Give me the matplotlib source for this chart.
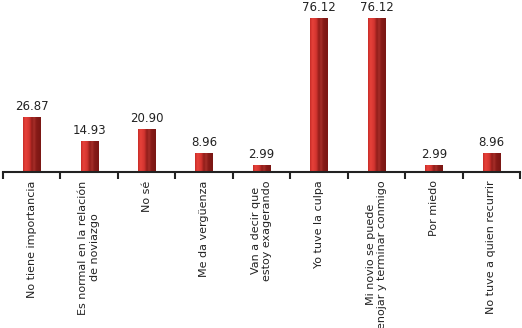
import numpy as np
import matplotlib
matplotlib.use("Agg")
import matplotlib.pyplot as plt
from matplotlib.colors import LinearSegmentedColormap

categories = [
    "No tiene importancia",
    "Es normal en la relación\nde noviazgo",
    "No sé",
    "Me da vergüenza",
    "Van a decir que\nestoy exagerando",
    "Yo tuve la culpa",
    "Mi novio se puede\nenojar y terminar conmigo",
    "Por miedo",
    "No tuve a quien recurrir",
]
values = [26.87, 14.93, 20.90, 8.96, 2.99, 76.12, 76.12, 2.99, 8.96]
value_labels = ["26.87", "14.93", "20.90", "8.96", "2.99", "76.12", "76.12", "2.99", "8.96"]

plt.rcParams["font.family"] = ["DejaVu Sans"]

# horizontal gradient used to shade each bar like a cylinder
bar_cmap = LinearSegmentedColormap.from_list("cyl", [
    (0.0, "#c42a26"),
    (0.12, "#e8423a"),
    (0.35, "#d33530"),
    (0.5, "#8e1b18"),
    (0.62, "#a8302a"),
    (0.75, "#861a17"),
    (1.0, "#7a1714"),
])

fig = plt.figure(figsize=(5.22, 3.28), dpi=100)
ax = fig.add_axes([3 / 522, 156 / 328, 517 / 522, 160.8 / 328])

x = np.arange(len(categories))
bars = ax.bar(x, values, width=0.3, color="none", edgecolor="none", zorder=2)

grad = np.linspace(0, 1, 64).reshape(1, -1)
for b in bars:
    x0, y0 = b.get_x(), b.get_y()
    ax.imshow(grad, cmap=bar_cmap, aspect="auto", interpolation="bicubic",
              extent=(x0, x0 + b.get_width(), y0, y0 + b.get_height()), zorder=2)

for xi, v, lab in zip(x, values, value_labels):
    ax.annotate(lab, (xi, v), xytext=(0, 3.5), textcoords="offset points",
                ha="center", va="bottom", fontsize=8.5, color="#222222",
                annotation_clip=False)

ax.set_xlim(-0.5, len(categories) - 0.5)
ax.set_ylim(0, 80)

for side in ["top", "right", "left"]:
    ax.spines[side].set_visible(False)
ax.spines["bottom"].set_color("#222222")
ax.spines["bottom"].set_linewidth(1.5)
ax.set_yticks([])

ax.set_xticks(np.arange(-0.5, len(categories), 1.0), minor=False)
ax.set_xticklabels([])
ax.tick_params(axis="x", which="major", direction="out", length=5, width=1.5, color="#222222")
ax.set_xticks(x, minor=True)
ax.set_xticklabels(categories, minor=True, rotation=90, fontsize=8, color="#222222",
                   va="top", ha="center", multialignment="center")
ax.tick_params(axis="x", which="minor", length=0, pad=6)

fig.savefig("out.png", dpi=100)
